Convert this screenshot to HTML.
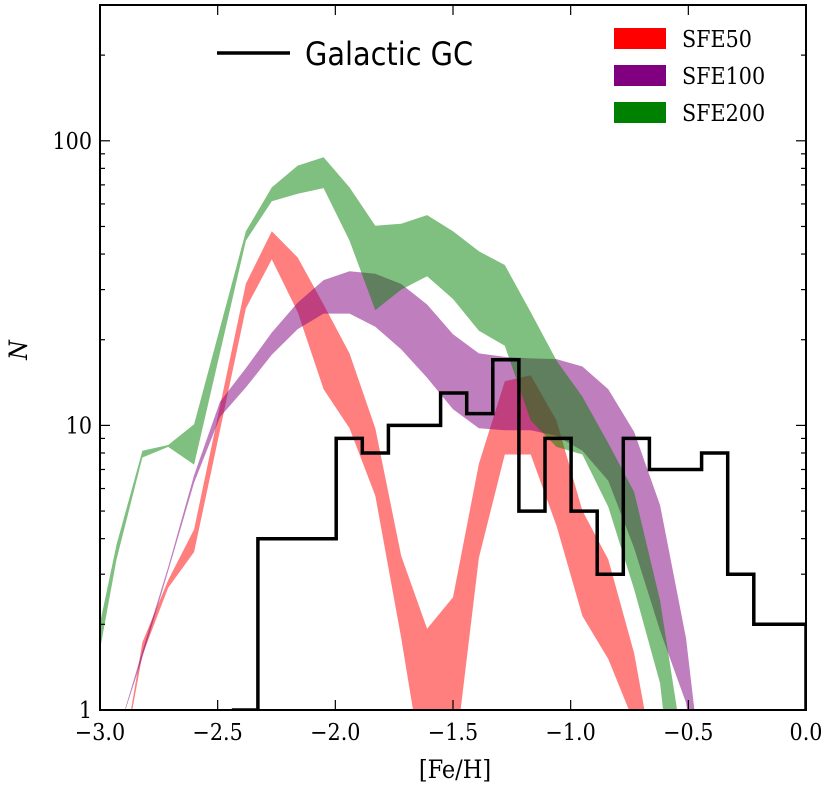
<!DOCTYPE html>
<html><head><meta charset="utf-8"><style>
html,body{margin:0;padding:0;background:#fff;width:831px;height:790px;overflow:hidden;}
svg{display:block;}
text{font-family:"DejaVu Sans Condensed","Liberation Sans Narrow","Liberation Sans",sans-serif;}
.serif{font-family:"DejaVu Serif Condensed","Liberation Serif",serif;}
</style></head><body>
<svg id="chart" width="831" height="790" viewBox="0 0 831 790" xmlns="http://www.w3.org/2000/svg">
<defs><clipPath id="plotclip"><rect x="100" y="5" width="706" height="705"/></clipPath></defs>
<rect x="0" y="0" width="831" height="790" fill="#fff"/>
<g id="bands" clip-path="url(#plotclip)"></g>
<g id="hist" clip-path="url(#plotclip)"></g>
<g id="axes"></g>
<g>
  <line x1="217" y1="53" x2="290" y2="53" stroke="#000" stroke-width="3.5"/>
  <text x="305" y="65" font-size="32">Galactic GC</text>
  <rect x="614" y="28" width="52" height="21" fill="#ff0000"/>
  <text class="serif" x="682" y="47" font-size="23">SFE50</text>
  <rect x="614" y="65" width="52" height="21" fill="#800080"/>
  <text class="serif" x="682" y="84" font-size="23">SFE100</text>
  <rect x="614" y="102" width="52" height="21" fill="#008000"/>
  <text class="serif" x="682" y="121" font-size="23">SFE200</text>
</g>
<text class="serif" x="455" y="778" font-size="25" text-anchor="middle">[Fe/H]</text>
<text class="serif" x="0" y="0" font-size="25" font-style="italic" text-anchor="middle" transform="translate(27,350) rotate(-90)">N</text>
</svg>
<script>
const feh = [-3.0,-2.93,-2.82,-2.71,-2.60,-2.49,-2.38,-2.27,-2.16,-2.05,-1.94,-1.83,-1.72,-1.61,-1.50,-1.39,-1.28,-1.17,-1.06,-0.95,-0.84,-0.73,-0.62,-0.51,-0.40];
const sfe50Hi  = [0.5,0.5,1.73,2.86,4.31,11.7,31.5,48.1,38.9,26.6,17.9,9.77,3.48,1.93,2.49,7.33,14.3,15.0,10.4,5.01,3.38,1.58,0.5,0.4,0.3];
const sfe50Lo  = [0.5,0.5,1.56,2.69,3.59,9.62,25.8,38.3,25.0,13.4,9.77,5.66,1.79,0.5,0.6,3.43,7.9,7.9,4.44,2.14,1.51,0.9,0.5,0.4,0.3];
const sfe100Hi = [0.5,0.8,1.61,3.18,6.69,12.1,15.9,21.2,27.0,32.4,34.8,34.1,31.4,26.6,20.9,17.9,17.4,17.2,17.1,16.1,13.4,9.48,5.24,1.79,0.3];
const sfe100Lo = [0.5,0.8,1.53,3.08,6.29,10.7,13.6,17.7,21.8,24.7,24.7,22.2,18.5,14.7,11.4,9.77,9.62,9.62,9.2,8.15,6.39,3.70,1.90,1.06,0.3];
const sfe200Hi = [2.02,3.81,8.15,8.53,10.1,22.0,48.1,68.6,81.8,87.5,68.6,50.3,51.1,54.8,48.1,40.9,36.6,25.0,16.9,12.6,8.65,5.83,2.42,0.63,0.3];
const sfe200Lo = [1.63,3.38,7.71,8.40,7.28,18.0,44.6,61.3,65.2,68.2,44.6,25.4,30.0,33.4,27.8,21.5,19.05,10.4,8.4,7.9,5.17,2.65,1.24,0.19,0.1];
const histStart = -2.44;
const histWidth = 0.110909;
const histCounts = [1,4,4,4,9,8,10,10,13,11,17,5,9,5,3,9,7,7,8,3,2,2];
const xTicks = [-3.0,-2.5,-2.0,-1.5,-1.0,-0.5,0.0];
const xTickLabels = ["\u22123.0","\u22122.5","\u22122.0","\u22121.5","\u22121.0","\u22120.5","0.0"];
const yTicks = [1,10,100];
const yTickLabels = ["1","10","100"];

const NS="http://www.w3.org/2000/svg";
const L=100,R=806,T=5,B=710;
const SERIF='font-family:"DejaVu Serif Condensed","Liberation Serif",serif';
const xMin=-3.0,xMax=0.0,yMinLog=0,yMaxLog=Math.log10(300);
function X(v){return L+(v-xMin)/(xMax-xMin)*(R-L);}
function Y(v){return B-(Math.log10(v)-yMinLog)/(yMaxLog-yMinLog)*(B-T);}
function mk(tag,attrs,parent){const e=document.createElementNS(NS,tag);for(const k in attrs)e.setAttribute(k,attrs[k]);parent.appendChild(e);return e;}

const bands=document.getElementById('bands');
function band(hi,lo,color,name){
  let d='';
  for(let i=0;i<feh.length;i++)d+=(i?'L':'M')+X(feh[i]).toFixed(1)+','+Y(hi[i]).toFixed(1);
  for(let i=feh.length-1;i>=0;i--)d+='L'+X(feh[i]).toFixed(1)+','+Y(lo[i]).toFixed(1);
  d+='Z';
  const p=mk('path',{d:d,fill:color,'fill-opacity':0.5,stroke:'none'},bands);
  
  
}
band(sfe50Hi,sfe50Lo,'#ff0000','sfe50-band');
band(sfe100Hi,sfe100Lo,'#800080','sfe100-band');
band(sfe200Hi,sfe200Lo,'#008000','sfe200-band');

const hist=document.getElementById('hist');
let hd='M'+X(histStart).toFixed(1)+','+Y(1).toFixed(1);
for(let i=0;i<histCounts.length;i++){
  const x0=X(histStart+i*histWidth),x1=X(histStart+(i+1)*histWidth),y=Y(histCounts[i]).toFixed(1);
  hd+='L'+x0.toFixed(1)+','+y+'L'+x1.toFixed(1)+','+y;
}
hd+='L'+X(histStart+histCounts.length*histWidth).toFixed(1)+','+Y(1).toFixed(1);
const hp=mk('path',{d:hd,fill:'none',stroke:'#000','stroke-width':3.5,'stroke-linejoin':'miter'},hist);



const axes=document.getElementById('axes');
const frame=mk('rect',{x:L,y:T,width:R-L,height:B-T,fill:'none',stroke:'#000','stroke-width':2},axes);


xTicks.forEach((v,i)=>{
  const x=X(v);
  mk('line',{x1:x,y1:B,x2:x,y2:B-10,stroke:'#000','stroke-width':1.2},axes);
  mk('line',{x1:x,y1:T,x2:x,y2:T+10,stroke:'#000','stroke-width':1.2},axes);
  const t=mk('text',{x:x,y:740,'font-size':23,'text-anchor':'middle',style:SERIF},axes);
  t.textContent=xTickLabels[i];
  
  
});
for(let dec=0;dec<3;dec++){
  for(let m=1;m<10;m++){
    const v=m*Math.pow(10,dec);
    if(v>300)break;
    const y=Y(v),len=(m===1)?10:5;
    mk('line',{x1:L,y1:y,x2:L+len,y2:y,stroke:'#000','stroke-width':1.2},axes);
    mk('line',{x1:R,y1:y,x2:R-len,y2:y,stroke:'#000','stroke-width':1.2},axes);
  }
}
yTicks.forEach((v,i)=>{
  const t=mk('text',{x:92,y:Y(v)+8,'font-size':23,'text-anchor':'end',style:SERIF},axes);
  t.textContent=yTickLabels[i];
  
  
});
</script>
</body></html>
